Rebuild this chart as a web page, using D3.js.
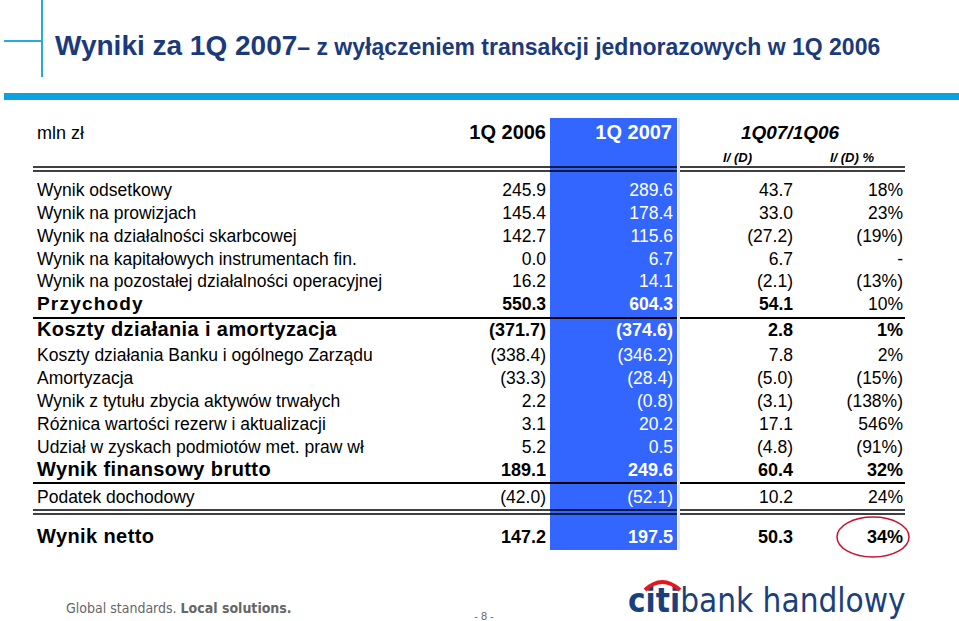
<!DOCTYPE html>
<html><head><meta charset="utf-8">
<script src="https://cdn.jsdelivr.net/npm/d3@7"></script>
<style>body{margin:0;background:#fff}</style></head>
<body><svg id="c" width="959" height="621"></svg>
<script>
const labels=["Wynik odsetkowy","Wynik na prowizjach","Wynik na działalności skarbcowej","Wynik na kapitałowych instrumentach fin.","Wynik na pozostałej działalności operacyjnej","Przychody","Koszty działania i amortyzacja","Koszty działania Banku i ogólnego Zarządu","Amortyzacja","Wynik z tytułu zbycia aktywów trwałych","Różnica wartości rezerw i aktualizacji","Udział w zyskach podmiotów met. praw wł","Wynik finansowy brutto","Podatek dochodowy","Wynik netto"];
const q2006=["245.9","145.4","142.7","0.0","16.2","550.3","(371.7)","(338.4)","(33.3)","2.2","3.1","5.2","189.1","(42.0)","147.2"];
const q2007=["289.6","178.4","115.6","6.7","14.1","604.3","(374.6)","(346.2)","(28.4)","(0.8)","20.2","0.5","249.6","(52.1)","197.5"];
const diff=["43.7","33.0","(27.2)","6.7","(2.1)","54.1","2.8","7.8","(5.0)","(3.1)","17.1","(4.8)","60.4","10.2","50.3"];
const pct=["18%","23%","(19%)","-","(13%)","10%","1%","2%","(15%)","(138%)","546%","(91%)","32%","24%","34%"];
const rowKind=["s","s","s","s","s","b","B","n","n","n","n","n","B","n","B"];
const rowY=[196,219,242,265,287,310,336,361,384,407,430,453,476,503,543];

const svg=d3.select("#c");
const F="Liberation Sans, Arial, sans-serif";
const y=d3.scaleLinear().domain([0,1]).range([0,1]);
svg.append("line").attr("x1",42).attr("x2",42).attr("y1",0).attr("y2",77).attr("stroke","#29a8dc").attr("stroke-width",2);
svg.append("line").attr("x1",4).attr("x2",42).attr("y1",41).attr("y2",41).attr("stroke","#29a8dc").attr("stroke-width",2);
svg.append("rect").attr("x",4).attr("y",93).attr("width",955).attr("height",7).attr("fill","#0ba3df");
const t=svg.append("text").attr("x",55).attr("y",55).attr("font-family",F).attr("font-weight","bold").attr("fill","#1b3a7c");
t.append("tspan").attr("font-size",28).text("Wyniki za 1Q 2007");
t.append("tspan").attr("font-size",23).text("– z wyłączeniem transakcji jednorazowych w 1Q 2006");

svg.append("rect").attr("x",550).attr("y",118).attr("width",127).attr("height",432).attr("fill","#3366ff");
svg.append("line").attr("x1",679).attr("x2",679).attr("y1",118).attr("y2",550).attr("stroke","#ccc").attr("stroke-width",1);

const hdr=(x,txt,opt)=>svg.append("text").attr("x",x).attr("y",opt.y).attr("text-anchor",opt.a||"end").attr("font-family",F).attr("font-size",opt.s).attr("font-weight",opt.w||"normal").attr("font-style",opt.i||"normal").attr("fill",opt.c||"#000").text(txt);
hdr(37,"mln zł",{y:139,s:18,a:"start"});
hdr(546,"1Q 2006",{y:139,s:20,w:"bold"});
hdr(672,"1Q 2007",{y:139,s:20,w:"bold",c:"#fff"});
hdr(790,"1Q07/1Q06",{y:139,s:19,a:"middle",i:"italic",w:"bold"});
hdr(752,"I/ (D)",{y:162,s:13,a:"end",i:"italic",w:"bold"});
hdr(874,"I/ (D) %",{y:162,s:13,a:"end",i:"italic",w:"bold"});

const rule=(yy,w)=>{[[33,677],[680,905]].forEach(([a,b])=>svg.append("line").attr("x1",a).attr("x2",b).attr("y1",yy).attr("y2",yy).attr("stroke","#000").attr("stroke-width",w));};
rule(167,1.5);rule(171,1.5);
rule(318,2);rule(483,2);rule(510,1.5);rule(514,1.5);

const cols=[{x:546,d:q2006,c:"#000"},{x:673,d:q2007,c:"#fff"},{x:793,d:diff,c:"#000"},{x:903,d:pct,c:"#000"}];
labels.forEach((l,i)=>{
  const k=rowKind[i];
  const bold=!(k==="s"||k==="n");
  svg.append("text").attr("x",37).attr("y",y(rowY[i])).attr("font-family",F)
    .attr("font-size",k==="B"?20:(k==="b"?19:17.5)).attr("font-weight",bold?"bold":"normal")
    .attr("letter-spacing",k==="b"?1.2:(k==="B"?0.4:0)).text(l);
  cols.forEach((c,j)=>{
    const w=bold&&!(k==="b"&&j===3)?"bold":"normal";
    svg.append("text").attr("x",c.x).attr("y",y(rowY[i])).attr("text-anchor","end").attr("font-family",F).attr("font-size",k==="B"?18:17.5).attr("font-weight",w).attr("fill",c.c).text(c.d[i]);
  });
});
svg.append("ellipse").attr("cx",873).attr("cy",537).attr("rx",36).attr("ry",20).attr("fill","none").attr("stroke","#c8102e").attr("stroke-width",1.5);

const g=svg.append("text").attr("x",66).attr("y",613).attr("font-family","DejaVu Sans Condensed, DejaVu Sans, sans-serif").attr("font-size",14).attr("fill","#666");
g.append("tspan").text("Global standards. ");g.append("tspan").attr("font-weight","bold").text("Local solutions.");
svg.append("text").attr("x",484).attr("y",620).attr("text-anchor","middle").attr("font-family",F).attr("font-size",11).attr("fill","#666").text("- 8 -");
const lg=svg.append("text").attr("x",628).attr("y",612).attr("font-family","DejaVu Sans Condensed, DejaVu Sans, sans-serif").attr("font-size",33).attr("fill","#1b3f7c");
lg.append("tspan").attr("font-weight","bold").text("citi");lg.append("tspan").text("bank handlowy");
svg.append("path").attr("d","M645,590 Q662,574 680,590").attr("fill","none").attr("stroke","#e3171e").attr("stroke-width",4);
</script></body></html>
